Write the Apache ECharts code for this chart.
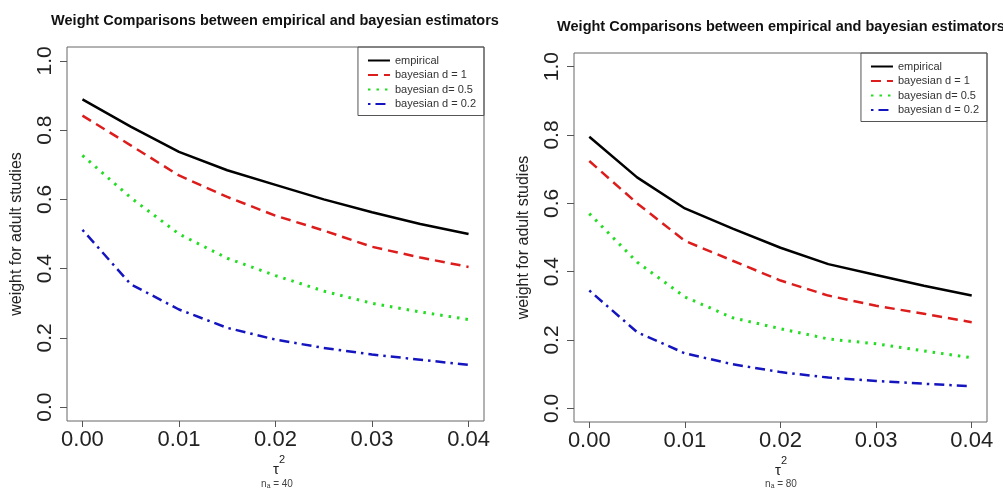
<!DOCTYPE html>
<html>
<head>
<meta charset="utf-8">
<script src="https://cdn.jsdelivr.net/npm/echarts@6/dist/echarts.min.js"></script>
<style>
  html, body { margin: 0; padding: 0; background: #fff; }
  #main { width: 1003px; height: 489px; }
</style>
</head>
<body>
<div id="main"></div>
<script>
// tau^2 grid
const tau = [0, 0.005, 0.01, 0.015, 0.02, 0.025, 0.03, 0.035, 0.04];

// n = 40
const empirical40 = [0.889, 0.81, 0.737, 0.684, 0.642, 0.60, 0.563, 0.529, 0.50];
const bayes1_40 = [0.842, 0.756, 0.669, 0.607, 0.553, 0.51, 0.463, 0.432, 0.405];
const bayes05_40 = [0.727, 0.605, 0.50, 0.43, 0.38, 0.335, 0.30, 0.275, 0.253];
const bayes02_40 = [0.512, 0.355, 0.282, 0.229, 0.195, 0.171, 0.152, 0.137, 0.122];

// n = 80
const empirical80 = [0.795, 0.676, 0.585, 0.526, 0.47, 0.422, 0.39, 0.359, 0.33];
const bayes1_80 = [0.724, 0.60, 0.49, 0.432, 0.374, 0.33, 0.30, 0.277, 0.252];
const bayes05_80 = [0.57, 0.428, 0.326, 0.265, 0.233, 0.203, 0.189, 0.168, 0.148];
const bayes02_80 = [0.345, 0.223, 0.161, 0.129, 0.106, 0.09, 0.08, 0.072, 0.065];

const xTicks = [0, 0.01, 0.02, 0.03, 0.04];
const yTicks = [0, 0.2, 0.4, 0.6, 0.8, 1.0];
const names = ['empirical', 'bayesian d = 1', 'bayesian d= 0.5', 'bayesian d = 0.2'];

const FONT = 'Liberation Sans, Arial, sans-serif';

// line looks, same order as names
const looks = [
  { color: '#000000', type: 'solid', width: 2.5 },
  { color: '#DD1C1C', type: [10, 6], width: 2.5 },
  { color: '#22DD22', type: [2.5, 6], width: 3 },
  { color: '#1515C0', type: [2.5, 5, 10, 5], width: 2.5 }
];

function pairs(ys) {
  return tau.map((t, i) => [t, ys[i]]);
}

function makeX(idx) {
  return {
    gridIndex: idx,
    type: 'value',
    min: -0.0016,
    max: 0.0416,
    axisLine: { show: false, onZero: false },
    splitLine: { show: false },
    axisTick: { show: true, length: 6, customValues: xTicks, lineStyle: { color: '#555' } },
    axisLabel: {
      customValues: xTicks,
      margin: 8,
      fontSize: 22,
      fontFamily: FONT,
      color: '#222',
      formatter: v => v.toFixed(2)
    }
  };
}

function makeY(idx) {
  return {
    gridIndex: idx,
    type: 'value',
    min: -0.04,
    max: 1.04,
    name: 'weight for adult studies',
    nameLocation: 'middle',
    nameRotate: 90,
    nameGap: 42,
    nameTextStyle: { fontSize: 16, fontFamily: FONT, color: '#222' },
    axisLine: { show: false, onZero: false },
    splitLine: { show: false },
    axisTick: { show: true, length: 7, customValues: yTicks, lineStyle: { color: '#555' } },
    axisLabel: {
      customValues: yTicks,
      rotate: 90,
      margin: 11,
      fontSize: 21,
      fontFamily: FONT,
      color: '#222',
      formatter: v => v.toFixed(1)
    }
  };
}

function makeSeries(idx, sets) {
  return sets.map((ys, i) => ({
    name: names[i],
    type: 'line',
    xAxisIndex: idx,
    yAxisIndex: idx,
    symbol: 'none',
    smooth: false,
    lineStyle: { color: looks[i].color, type: looks[i].type, width: looks[i].width, cap: 'butt' },
    itemStyle: { color: looks[i].color },
    data: pairs(ys)
  }));
}

function makeLegend(rightPx, topPx) {
  return {
    data: names,
    orient: 'vertical',
    right: rightPx,
    top: topPx,
    itemWidth: 22,
    itemHeight: 11,
    itemGap: 3.5,
    padding: [8, 8, 6, 9],
    borderColor: '#555',
    borderWidth: 1,
    borderRadius: 0,
    selectedMode: false,
    itemStyle: { opacity: 0 },
    textStyle: { fontSize: 11, fontFamily: FONT, color: '#333' }
  };
}

var myChart = echarts.init(document.getElementById('main'));

let option = {
  animation: false,
  backgroundColor: '#fff',
  title: [
    {
      text: 'Weight Comparisons between empirical and bayesian estimators',
      left: 270, top: 8, textAlign: 'center',
      textStyle: { fontSize: 14.5, fontWeight: 'bold', fontFamily: FONT, color: '#111' }
    },
    {
      text: 'Weight Comparisons between empirical and bayesian estimators',
      left: 776, top: 14, textAlign: 'center',
      textStyle: { fontSize: 14.5, fontWeight: 'bold', fontFamily: FONT, color: '#111' }
    }
  ],
  legend: [makeLegend(519, 47), makeLegend(16, 53)],
  grid: [
    { left: 67, top: 47, width: 417, height: 374, show: true, borderColor: '#666', borderWidth: 1, backgroundColor: 'transparent' },
    { left: 574, top: 53, width: 413, height: 369, show: true, borderColor: '#666', borderWidth: 1, backgroundColor: 'transparent' }
  ],
  xAxis: [makeX(0), makeX(1)],
  yAxis: [makeY(0), makeY(1)],
  graphic: [
    { type: 'text', style: { text: 'τ', x: 276, y: 470, font: '15px ' + FONT, fill: '#222', align: 'center', verticalAlign: 'middle' } },
    { type: 'text', style: { text: '2', x: 282, y: 460, font: '11px ' + FONT, fill: '#222', align: 'center', verticalAlign: 'middle' } },
    { type: 'text', style: { text: 'nₐ = 40', x: 277, y: 484, font: '10px ' + FONT, fill: '#444', align: 'center', verticalAlign: 'middle' } },
    { type: 'text', style: { text: 'τ', x: 778, y: 471, font: '15px ' + FONT, fill: '#222', align: 'center', verticalAlign: 'middle' } },
    { type: 'text', style: { text: '2', x: 784, y: 461, font: '11px ' + FONT, fill: '#222', align: 'center', verticalAlign: 'middle' } },
    { type: 'text', style: { text: 'nₐ = 80', x: 781, y: 484, font: '10px ' + FONT, fill: '#444', align: 'center', verticalAlign: 'middle' } }
  ],
  series: [].concat(
    makeSeries(0, [empirical40, bayes1_40, bayes05_40, bayes02_40]),
    makeSeries(1, [empirical80, bayes1_80, bayes05_80, bayes02_80])
  )
};

myChart.setOption(option);
</script>
</body>
</html>
